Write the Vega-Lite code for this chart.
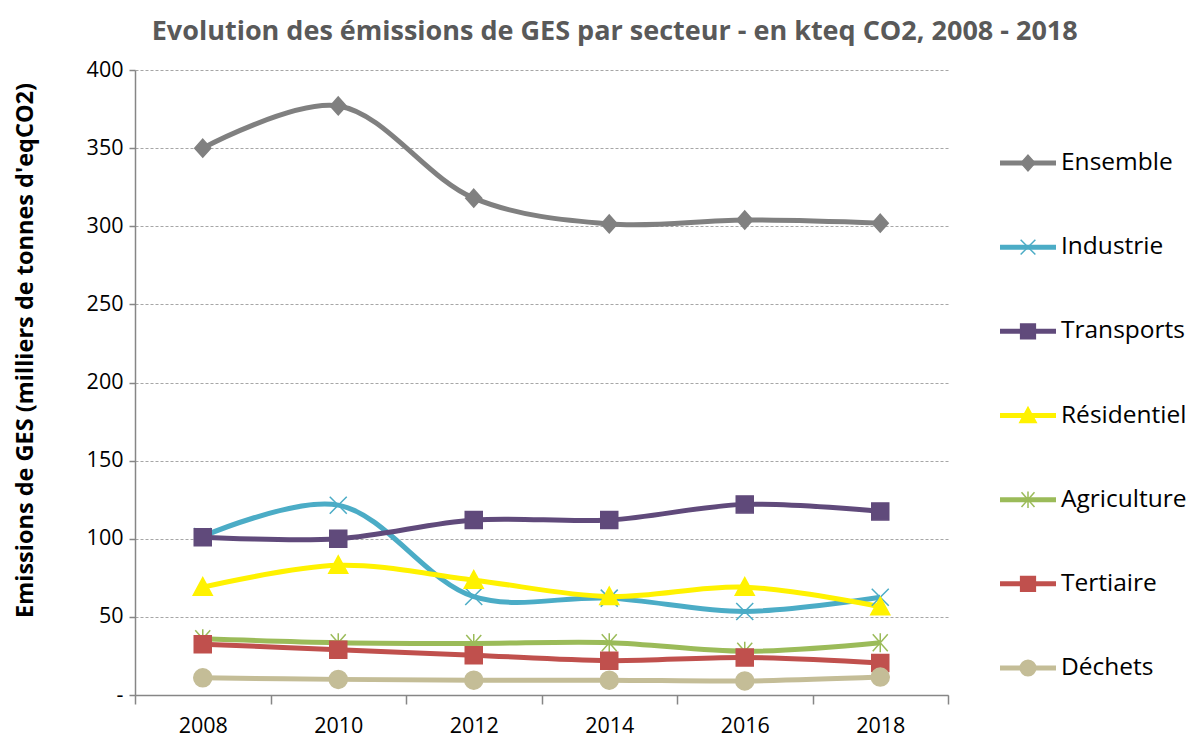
{
  "$schema": "https://vega.github.io/schema/vega-lite/v6.json",
  "autosize": {"type": "pad"},
  "padding": {"left": 12, "top": 18, "right": 5, "bottom": 5},
  "background": "white",
  "title": {
    "text": "Evolution des émissions de GES par secteur - en kteq CO2, 2008 - 2018",
    "font": "Open Sans", "fontSize": 27, "fontWeight": "bold", "color": "#595959",
    "anchor": "middle", "dx": 15, "offset": 13
  },
  "data": {
    "values": [
      {"year": "2008", "series": "Ensemble", "value": 350},
      {"year": "2010", "series": "Ensemble", "value": 377},
      {"year": "2012", "series": "Ensemble", "value": 318},
      {"year": "2014", "series": "Ensemble", "value": 301.5},
      {"year": "2016", "series": "Ensemble", "value": 304},
      {"year": "2018", "series": "Ensemble", "value": 302},
      {"year": "2008", "series": "Industrie", "value": 101.5},
      {"year": "2010", "series": "Industrie", "value": 121.5},
      {"year": "2012", "series": "Industrie", "value": 63},
      {"year": "2014", "series": "Industrie", "value": 62},
      {"year": "2016", "series": "Industrie", "value": 53.5},
      {"year": "2018", "series": "Industrie", "value": 62.5},
      {"year": "2008", "series": "Transports", "value": 101},
      {"year": "2010", "series": "Transports", "value": 100},
      {"year": "2012", "series": "Transports", "value": 112},
      {"year": "2014", "series": "Transports", "value": 112},
      {"year": "2016", "series": "Transports", "value": 122},
      {"year": "2018", "series": "Transports", "value": 117.5},
      {"year": "2008", "series": "Résidentiel", "value": 69},
      {"year": "2010", "series": "Résidentiel", "value": 83},
      {"year": "2012", "series": "Résidentiel", "value": 73.5},
      {"year": "2014", "series": "Résidentiel", "value": 63},
      {"year": "2016", "series": "Résidentiel", "value": 69},
      {"year": "2018", "series": "Résidentiel", "value": 56.5},
      {"year": "2008", "series": "Agriculture", "value": 36},
      {"year": "2010", "series": "Agriculture", "value": 33.5},
      {"year": "2012", "series": "Agriculture", "value": 33},
      {"year": "2014", "series": "Agriculture", "value": 33.5},
      {"year": "2016", "series": "Agriculture", "value": 28},
      {"year": "2018", "series": "Agriculture", "value": 33.5},
      {"year": "2008", "series": "Tertiaire", "value": 32.5},
      {"year": "2010", "series": "Tertiaire", "value": 29},
      {"year": "2012", "series": "Tertiaire", "value": 25.5},
      {"year": "2014", "series": "Tertiaire", "value": 22},
      {"year": "2016", "series": "Tertiaire", "value": 24},
      {"year": "2018", "series": "Tertiaire", "value": 20.5},
      {"year": "2008", "series": "Déchets", "value": 11},
      {"year": "2010", "series": "Déchets", "value": 10},
      {"year": "2012", "series": "Déchets", "value": 9.5},
      {"year": "2014", "series": "Déchets", "value": 9.5},
      {"year": "2016", "series": "Déchets", "value": 9},
      {"year": "2018", "series": "Déchets", "value": 11.5}
    ]
  },
  "spacing": 52,
  "bounds": "flush",
  "hconcat": [
    {
      "width": 813,
      "height": 625,
      "encoding": {
        "x": {
          "field": "year", "type": "ordinal",
          "scale": {"type": "band", "paddingInner": 0, "paddingOuter": 0},
          "axis": {
            "title": null, "labelAngle": 0, "labelFont": "Open Sans", "labelFontSize": 21.5,
            "labelColor": "#000000", "labelPadding": 11, "tickBand": "extent", "tickSize": 9,
            "tickColor": "#868686", "tickWidth": 1.5, "domainColor": "#868686", "domainWidth": 1.5,
            "grid": false
          }
        },
        "y": {
          "field": "value", "type": "quantitative",
          "scale": {"domain": [0, 400]},
          "axis": {
            "values": [0, 50, 100, 150, 200, 250, 300, 350, 400],
            "labelExpr": "datum.value == 0 ? '-\u00a0\u00a0' : datum.label",
            "labelFont": "Open Sans", "labelFontSize": 21.5, "labelColor": "#000000",
            "tickSize": 6, "labelPadding": 6, "tickColor": "#868686", "tickWidth": 1.5,
            "domainColor": "#868686", "domainWidth": 1.5,
            "grid": true, "gridColor": "#A6A6A6", "gridDash": [3, 2], "gridWidth": 1,
            "title": "Emissions de GES (milliers de tonnes d'eqCO2)",
            "titleFont": "Open Sans", "titleFontSize": 23.5, "titleFontWeight": "bold", "titleColor": "#000000",
            "titleX": -110, "titleY": 280, "titleAngle": 270, "titleAlign": "center", "titleBaseline": "middle"
          }
        },
        "color": {
          "field": "series", "type": "nominal",
          "scale": {
            "domain": ["Ensemble", "Industrie", "Transports", "Résidentiel", "Agriculture", "Tertiaire", "Déchets"],
            "range": ["#808080", "#4BACC6", "#604A7B", "#FFF200", "#9BBB59", "#C0504D", "#C4BD97"]
          },
          "legend": null
        }
      },
      "layer": [
        {"mark": {"type": "line", "interpolate": "catmull-rom", "strokeWidth": 5}},
        {
          "mark": {"type": "point", "filled": true, "strokeWidth": 1.5, "size": 400, "opacity": 1},
          "encoding": {
            "shape": {
              "field": "series", "type": "nominal",
              "scale": {
                "domain": ["Ensemble", "Industrie", "Transports", "Résidentiel", "Agriculture", "Tertiaire", "Déchets"],
                "range": [
                  "M0,-0.9L0.8,0L0,0.9L-0.8,0Z",
                  "M-0.85,-0.85L0.85,0.85M0.85,-0.85L-0.85,0.85",
                  "M-0.85,-0.85H0.85V0.85H-0.85Z",
                  "M0,-0.95L0.95,0.8H-0.95Z",
                  "M-0.75,-0.85L0.75,0.85M0.75,-0.85L-0.75,0.85M0,-0.95V0.95",
                  "M-0.85,-0.85H0.85V0.85H-0.85Z",
                  "M-0.9,0A0.9,0.9,0,1,1,0.9,0A0.9,0.9,0,1,1,-0.9,0Z"
                ]
              },
              "legend": null
            },
            "stroke": {
              "field": "series", "type": "nominal",
              "scale": {
                "domain": ["Ensemble", "Industrie", "Transports", "Résidentiel", "Agriculture", "Tertiaire", "Déchets"],
                "range": ["#808080", "#4BACC6", "#604A7B", "#FFF200", "#9BBB59", "#C0504D", "#C4BD97"]
              },
              "legend": null
            }
          }
        }
      ]
    },
    {
      "width": 56,
      "height": 691,
      "transform": [{"filter": {"field": "year", "equal": "2008"}}],
      "encoding": {
        "y": {
          "field": "series", "type": "nominal",
          "scale": {
            "type": "band", "paddingInner": 0, "paddingOuter": 0.605,
            "domain": ["Ensemble", "Industrie", "Transports", "Résidentiel", "Agriculture", "Tertiaire", "Déchets"]
          },
          "axis": null
        }
      },
      "layer": [
        {
          "mark": {"type": "rule", "strokeWidth": 5},
          "encoding": {
            "x": {"datum": 0, "type": "quantitative", "scale": {"domain": [0, 1]}, "axis": null},
            "x2": {"datum": 1},
            "color": {
              "field": "series", "type": "nominal",
              "scale": {
                "domain": ["Ensemble", "Industrie", "Transports", "Résidentiel", "Agriculture", "Tertiaire", "Déchets"],
                "range": ["#808080", "#4BACC6", "#604A7B", "#FFF200", "#9BBB59", "#C0504D", "#C4BD97"]
              },
              "legend": null
            }
          }
        },
        {
          "mark": {"type": "point", "filled": true, "strokeWidth": 1.5, "size": 300, "opacity": 1},
          "encoding": {
            "x": {"datum": 0.5, "type": "quantitative", "scale": {"domain": [0, 1]}, "axis": null},
            "color": {
              "field": "series", "type": "nominal",
              "scale": {
                "domain": ["Ensemble", "Industrie", "Transports", "Résidentiel", "Agriculture", "Tertiaire", "Déchets"],
                "range": ["#808080", "#4BACC6", "#604A7B", "#FFF200", "#9BBB59", "#C0504D", "#C4BD97"]
              },
              "legend": null
            },
            "shape": {
              "field": "series", "type": "nominal",
              "scale": {
                "domain": ["Ensemble", "Industrie", "Transports", "Résidentiel", "Agriculture", "Tertiaire", "Déchets"],
                "range": [
                  "M0,-0.9L0.8,0L0,0.9L-0.8,0Z",
                  "M-0.85,-0.85L0.85,0.85M0.85,-0.85L-0.85,0.85",
                  "M-0.85,-0.85H0.85V0.85H-0.85Z",
                  "M0,-0.95L0.95,0.8H-0.95Z",
                  "M-0.75,-0.85L0.75,0.85M0.75,-0.85L-0.75,0.85M0,-0.95V0.95",
                  "M-0.85,-0.85H0.85V0.85H-0.85Z",
                  "M-0.9,0A0.9,0.9,0,1,1,0.9,0A0.9,0.9,0,1,1,-0.9,0Z"
                ]
              },
              "legend": null
            },
            "stroke": {
              "field": "series", "type": "nominal",
              "scale": {
                "domain": ["Ensemble", "Industrie", "Transports", "Résidentiel", "Agriculture", "Tertiaire", "Déchets"],
                "range": ["#808080", "#4BACC6", "#604A7B", "#FFF200", "#9BBB59", "#C0504D", "#C4BD97"]
              },
              "legend": null
            }
          }
        },
        {
          "mark": {"type": "text", "align": "left", "baseline": "middle", "dx": 5, "font": "Open Sans", "fontSize": 24.5, "color": "#000000"},
          "encoding": {
            "x": {"datum": 1, "type": "quantitative", "scale": {"domain": [0, 1]}, "axis": null},
            "text": {"field": "series", "type": "nominal"}
          }
        }
      ]
    }
  ],
  "config": {"view": {"stroke": null}}
}
